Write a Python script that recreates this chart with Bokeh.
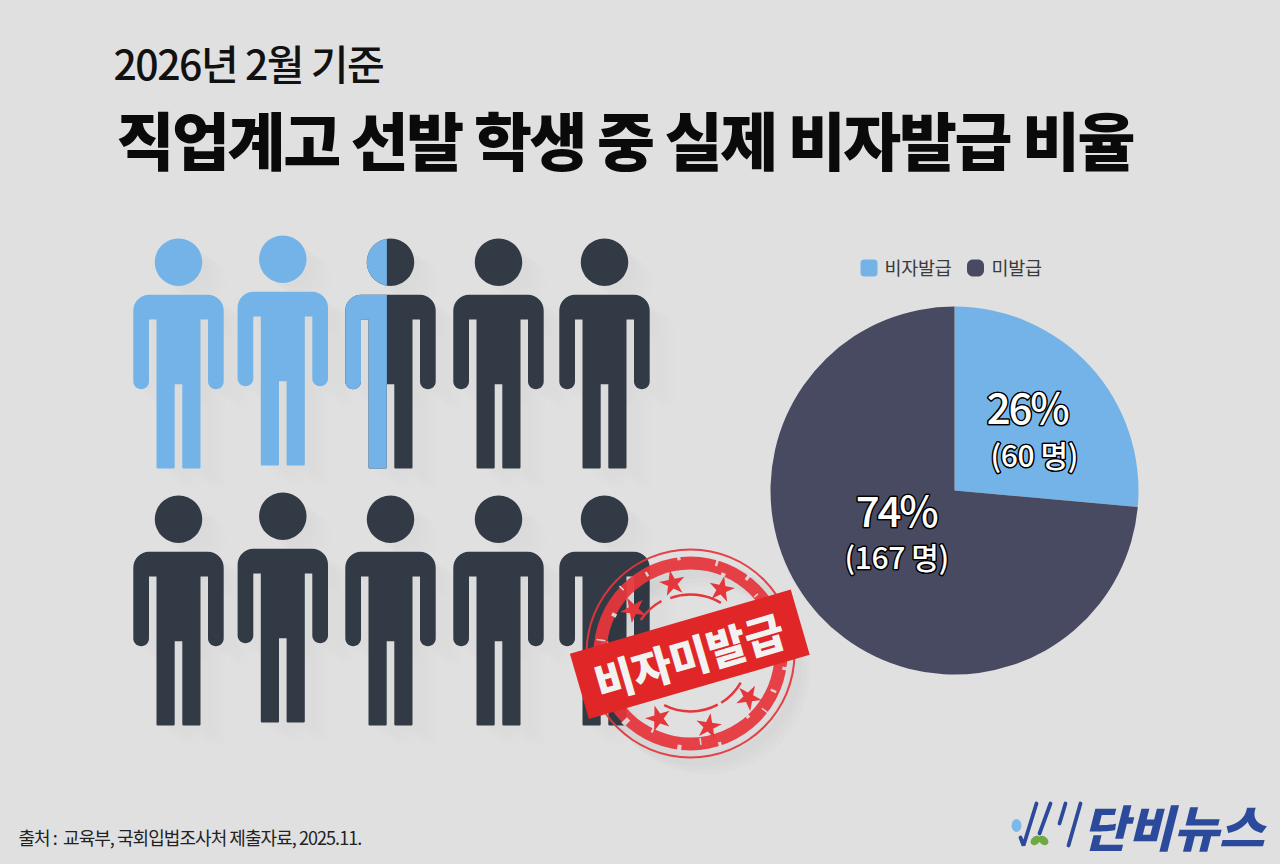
import math
from bokeh.plotting import figure
from bokeh.models import Range1d
from bokeh.core.properties import value
from bokeh.embed import file_html
from bokeh.resources import INLINE

# ---- data ----
subtitle = "2026년 2월 기준"
title = "직업계고 선발 학생 중 실제 비자발급 비율"
categories = ["비자발급", "미발급"]
counts = [60, 167]
percent_labels = ["26%", "74%"]
count_labels = ["(60 명)", "(167 명)"]
person_fill_row1 = [1, 1, 0.46, 0, 0]
person_fill_row2 = [0, 0, 0, 0, 0]
stamp_text = "비자미발급"
source_text = "출처 :\u00a0 교육부, 국회입법조사처 제출자료, 2025.11."
logo_text = "단비뉴스"

# ---- style / layout ----
BG = "#e0e0e0"
BLUE = "#74b3e7"
PIE_DARK = "#474a60"
PERSON_DARK = "#323b45"
RED = "#e02626"
RED2 = "#e4363b"
KR = value("Noto Sans CJK KR")
KR_MED = value("Noto Sans CJK KR Medium")
KR_BLACK = value("Noto Sans CJK KR Black")
col_x = [178, 282.3, 390, 498, 604]
col_dy = [0, -3, 0, 0, 0]
row_y = [294.3, 551.3]

p = figure(width=1280, height=864, x_range=Range1d(0, 1280), y_range=Range1d(864, 0),
           output_backend="svg", toolbar_location=None, min_border=0,
           background_fill_color=BG, border_fill_color=BG, outline_line_color=None)
p.axis.visible = False
p.grid.visible = False


def rounded(verts):
    out = []
    n = len(verts)
    for i, (x, y, r) in enumerate(verts):
        if r <= 0:
            out.append((x, y))
            continue
        x0, y0, _ = verts[i - 1]
        x1, y1, _ = verts[(i + 1) % n]
        a = math.hypot(x0 - x, y0 - y)
        b = math.hypot(x1 - x, y1 - y)
        ux, uy = (x0 - x) / a, (y0 - y) / a
        vx, vy = (x1 - x) / b, (y1 - y) / b
        for k in range(9):
            t = k / 8
            c = math.cos(t * math.pi / 2)
            s = math.sin(t * math.pi / 2)
            out.append((x + r * (ux * (1 - s) + vx * (1 - c)), y + r * (uy * (1 - s) + vy * (1 - c))))
    return out


BODY = rounded([
    (-45.2, 0, 15.7), (45.2, 0, 15.7), (45.2, 94.4, 7.8), (29.5, 94.4, 7.8), (29.5, 24.7, 0),
    (22, 24.7, 0), (22, 173.7, 1.2), (3.8, 173.7, 1.2), (3.8, 89.4, 0), (-3.8, 89.4, 0),
    (-3.8, 173.7, 1.2), (-22, 173.7, 1.2), (-22, 24.7, 0), (-29.5, 24.7, 0), (-29.5, 94.4, 7.8),
    (-45.2, 94.4, 7.8),
])
HEAD = [(23.7 * math.cos(k * math.pi / 30), -32.6 + 23.7 * math.sin(k * math.pi / 30)) for k in range(60)]


def clip_left(poly, lim):
    out = []
    for i, (x, y) in enumerate(poly):
        x0, y0 = poly[i - 1]
        if (x <= lim) != (x0 <= lim):
            t = (lim - x0) / (x - x0)
            out.append((lim, y0 + t * (y - y0)))
        if x <= lim:
            out.append((x, y))
    return out


def add_shape(poly, cx, cy, store):
    store[0].append([[[cx + a for a, _ in poly]]])
    store[1].append([[[cy + b for _, b in poly]]])


dark, blue, shadow = ([], []), ([], []), ([], [])
for y0, fills in zip(row_y, [person_fill_row1, person_fill_row2]):
    for cx, dy, f in zip(col_x, col_dy, fills):
        cy = y0 + dy
        for shp in (BODY, HEAD):
            add_shape(shp, cx, cy, shadow)
            if f >= 1:
                add_shape(shp, cx, cy, blue)
            else:
                add_shape(shp, cx, cy, dark)
                if f > 0:
                    lim = (f - 0.5) * 90.4
                    add_shape(clip_left(shp, lim), cx, cy, blue)

for ox, oy in [(6, 5), (10, 8), (14, 11), (18, 14), (22, 17), (26, 20)]:
    p.multi_polygons([[[[a + ox for a in q[0][0]]]] for q in shadow[0]],
                     [[[[b + oy for b in q[0][0]]]] for q in shadow[1]],
                     fill_color="#000000", fill_alpha=0.004, line_color=None)

p.multi_polygons(dark[0], dark[1], fill_color=PERSON_DARK, line_color=None)
p.multi_polygons(blue[0], blue[1], fill_color=BLUE, line_color=None)

# pie
total = sum(counts)
start = math.pi / 2
pie_c = (954, 490)
for v, col in zip(counts, [BLUE, PIE_DARK]):
    end = start - 2 * math.pi * v / total
    p.wedge(x=[pie_c[0]], y=[pie_c[1]], radius=184, start_angle=[end], end_angle=[start],
            fill_color=col, line_color=None)
    start = end

lab_pos = [(1030, 405), (899, 507.7)]
cnt_pos = [(1035, 453), (897.5, 555.5)]
for (x, y), t in zip(lab_pos, percent_labels):
    p.text([x], [y], text=[t], text_font=KR_MED, text_font_size="42px", text_color="#ffffff",
           text_align="center", text_baseline="middle", outline_color="#000000")
for (x, y), t in zip(cnt_pos, count_labels):
    p.text([x], [y], text=[t], text_font=KR_MED, text_font_size="30px", text_color="#ffffff",
           text_align="center", text_baseline="middle", outline_color="#000000")

# legend
def rbox(cx, cy, h, r):
    return rounded([(cx - h, cy - h, r), (cx + h, cy - h, r), (cx + h, cy + h, r), (cx - h, cy + h, r)])

for (cx, tx), col, cat, rr in zip([(868.5, 884), (975, 991)], [BLUE, PIE_DARK], categories, [3.5, 6]):
    box = rbox(cx, 267.5, 8.5, rr)
    p.patch([a for a, _ in box], [b for _, b in box], fill_color=col, line_color=None)
    p.text([tx], [266], text=[cat], text_font=KR, text_font_size="18.5px", text_color="#3a3a3a",
           text_align="left", text_baseline="middle")

# titles
p.text([113], [61.5], text=[subtitle], text_font=KR_MED, text_font_size="41px", text_color="#111111",
       text_align="left", text_baseline="middle")
p.text([116], [136.5], text=[title], text_font=KR_BLACK, text_font_size="63px",
       text_color="#0a0a0a", text_align="left", text_baseline="middle")
p.text([18], [836], text=[source_text], text_font=KR, text_font_size="18px", text_color="#222222",
       text_align="left", text_baseline="middle")

# stamp
sc = (690, 653)
for off, a in [((8, 9), 0.012), ((12, 13), 0.012), ((16, 17), 0.012)]:
    p.annular_wedge([sc[0] + off[0]], [sc[1] + off[1]], inner_radius=84, outer_radius=104,
                    start_angle=0, end_angle=2 * math.pi, fill_color="#000000", fill_alpha=a, line_color=None)
p.annular_wedge([sc[0]], [sc[1]], inner_radius=84, outer_radius=97, start_angle=0, end_angle=2 * math.pi,
                fill_color=RED2, fill_alpha=0.94, line_color=None)
p.annular_wedge([sc[0]], [sc[1]], inner_radius=103, outer_radius=105, start_angle=0, end_angle=2 * math.pi,
                fill_color=RED2, fill_alpha=0.94, line_color=None)
# worn patches in the ring
specks = [(14, 1.5, 86, 96), (28, 3, 93, 98), (41, 1, 85, 90), (52, 2, 92, 98), (66, 3, 83, 87), (73, 1.5, 91, 98),
          (96, 2, 94, 98), (118, 1.5, 88, 93), (136, 1, 92, 98), (152, 2.5, 83, 88), (171, 1, 86, 95),
          (203, 1.5, 93, 98), (215, 1, 84, 90), (225, 3, 90, 98), (243, 1.5, 83, 88), (262, 2.5, 92, 98),
          (276, 1, 85, 92), (287, 2, 93, 98), (311, 2.5, 83, 87), (322, 1, 90, 98), (335, 1.5, 88, 94), (350, 2, 93, 98)]
for deg, w, r0, r1 in specks:
    a = math.radians(deg)
    p.annular_wedge([sc[0]], [sc[1]], inner_radius=r0, outer_radius=r1, start_angle=a, end_angle=a + math.radians(w),
                    fill_color=BG, fill_alpha=0.9, line_color=None)
for a0, a1, r in [(119, 146, 60), (59, 110, 59), (-117, -62, 58), (-58, -30, 58)]:
    p.arc([sc[0]], [sc[1]], radius=r, start_angle=math.radians(a0), end_angle=math.radians(a1),
          line_color=RED2, line_width=2.5)
p.scatter([672, 721, 633, 658, 708, 748], [583, 589, 609, 718, 726, 697], marker="star", size=27,
          angle=[0.2, -0.2, 0.5, 0.3, -0.15, -0.5], fill_color=RED2, line_color=None)
ang = math.radians(16.2)
p.rect([689.3], [653.8], width=230, height=68, angle=ang, fill_color=RED, line_color=None)
p.text([689.3], [653.8], text=[stamp_text], angle=ang, text_font=KR_BLACK, text_font_size="43px",
       text_color="#f2f2f2", text_align="center", text_baseline="middle")

# logo
LOGO = "#2b4a9b"
lines_x = [[1020, 1023, 1036], [1050, 1039], [1065, 1059], [1080, 1068]]
lines_y = [[837, 845, 803], [803, 833], [803, 823], [803, 845]]
p.multi_line(lines_x, lines_y, line_color=LOGO, line_width=3.8, line_cap="round")
p.ellipse([1016], [825], width=10, height=13, fill_color="#7db9e8", line_color=None)
p.ellipse([1035, 1043], [840, 840], width=11, height=8, angle=[0.7, -0.7], fill_color="#6fa944", line_color=None)
p.text([1082], [825], text=[logo_text], text_font=KR_BLACK, text_font_size="49.5px", text_font_style="italic",
       text_color=LOGO, text_align="left", text_baseline="middle")

# Tight tracking and a halo round the pie labels, which Bokeh's text glyph cannot set per text.
tracking_script = """
<script>
(function(){
  var track={"41":-1.5,"63":-2.4,"18":-0.95,"18.5":-0.3,"42":-2.2,"30":-0.4,"43":-0.5,"49.5":0};
  function walk(root){
    root.querySelectorAll('*').forEach(function(el){
      if(el.shadowRoot) walk(el.shadowRoot);
      if(el.tagName.toLowerCase()==='text'){
        var fs=parseFloat(el.getAttribute('font-size')||el.style.fontSize);
        if(track[String(fs)]!==undefined) el.style.letterSpacing=track[String(fs)]+'px';
        if(fs===42||fs===30){
          el.setAttribute('stroke','#000000');
          el.setAttribute('fill','#ffffff');
          el.setAttribute('stroke-width','2.6');
          el.setAttribute('stroke-linejoin','round');
          el.style.paintOrder='stroke';
        }
      }
    });
  }
  var n=0,t=setInterval(function(){walk(document);if(++n>40)clearInterval(t);},50);
})();
</script>
"""
html = file_html(p, INLINE)
css = "<style>html,body{background:" + BG + ";overflow:hidden;}</style>"
html = html.replace("<head>", "<head>" + css, 1).replace("</body>", tracking_script + "</body>", 1)
open("out.html", "w", encoding="utf-8").write(html)
